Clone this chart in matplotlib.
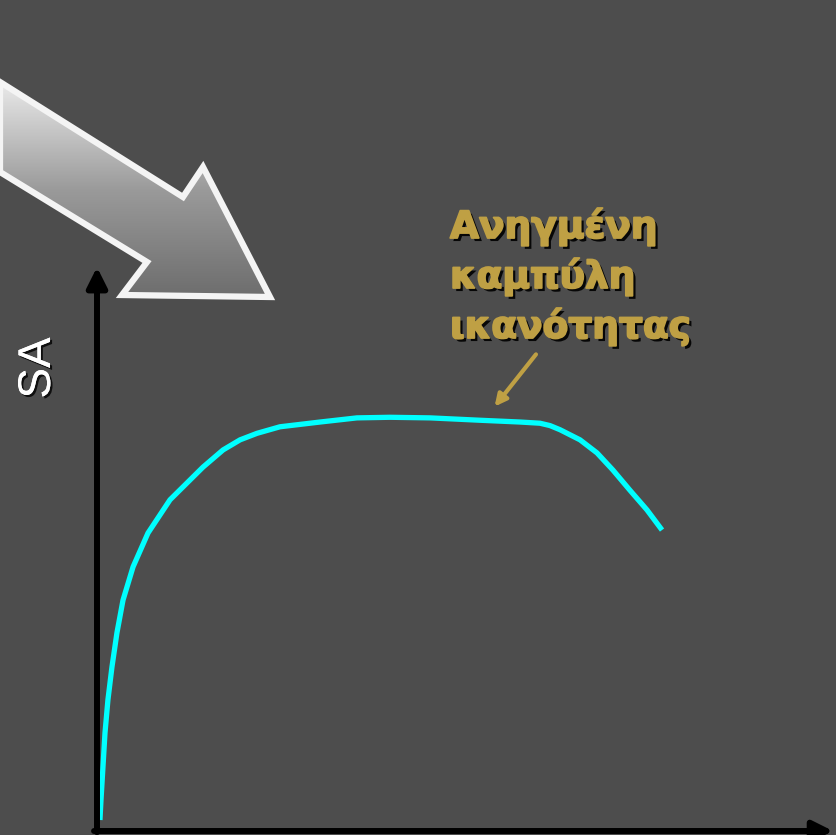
"""
Ανηγμένη καμπύλη ικανότητας - SA vs T sketch
"""

import numpy as np
import matplotlib
matplotlib.use('Agg')
import matplotlib.pyplot as plt
from matplotlib.patches import Polygon
import matplotlib.patheffects as pe

# ---- data ----
period = [0.020, 0.027, 0.054, 0.074, 0.101, 0.135, 0.176, 0.244, 0.345, 0.494,
          0.717, 0.853, 0.968, 1.083, 1.238, 1.509, 1.759, 1.982, 2.253, 2.591,
          2.862, 2.997, 3.065, 3.133, 3.268, 3.383, 3.491, 3.606, 3.721, 3.823]
sa = [0.0185, 0.052, 0.165, 0.221, 0.276, 0.334, 0.389, 0.445, 0.502, 0.558,
      0.613, 0.642, 0.659, 0.670, 0.681, 0.689, 0.696, 0.697, 0.696, 0.692,
      0.689, 0.687, 0.683, 0.676, 0.659, 0.637, 0.608, 0.574, 0.541, 0.507]
label_text = 'Ανηγμένη\nκαμπύλη\nικανότητας'
y_label = 'SA'
pointer_tip = (2.69, 0.715)
pointer_tail = (2.97, 0.803)

BG = '#4d4d4d'
GOLD = '#bfa044'

W, H = 836, 835
fig = plt.figure(figsize=(W / 100, H / 100), dpi=100, facecolor=BG)

# background axes in pixel units, for the decorative big arrow and text
bg = fig.add_axes([0, 0, 1, 1], zorder=0)
bg.set_xlim(0, W)
bg.set_ylim(H, 0)
bg.axis('off')
bg.set_facecolor(BG)

arrow_pts = [(0, 82), (183, 197), (203, 167), (270, 297), (122, 295), (147, 262), (0, 172)]
poly = Polygon(arrow_pts, closed=True, facecolor='none', edgecolor='#f4f4f4',
               lw=4.5, joinstyle='miter', zorder=3)
bg.add_patch(poly)
grad = np.linspace(0, 1, 256).reshape(-1, 1)
cmap = matplotlib.colors.LinearSegmentedColormap.from_list('g', ['#ebebeb', '#9a9a9a', '#6c6c6c'])
im = bg.imshow(grad, cmap=cmap, extent=(0, 280, 300, 80), aspect='auto', zorder=2)
im.set_clip_path(poly)
bg.set_xlim(0, W)
bg.set_ylim(H, 0)

shadow = [pe.withSimplePatchShadow(offset=(2.2, -2.2), shadow_rgbFace='black', alpha=0.9),
          pe.withStroke(linewidth=1.3, foreground=GOLD)]
bg.text(450, 208, label_text, color=GOLD, fontsize=27, fontweight='bold',
        family='DejaVu Sans', va='top', ha='left', linespacing=1.4, path_effects=shadow)
bg.text(38, 368, y_label, color='white', fontsize=33, family='Liberation Sans',
        rotation=90, ha='center', va='center',
        path_effects=[pe.withSimplePatchShadow(offset=(1.5, -1.5), shadow_rgbFace='black', alpha=0.8), pe.Normal()])

# data axes: origin at the corner of the drawn axes
ax = fig.add_axes([97 / W, (H - 831) / H, (W - 97) / W, 831 / H], zorder=1)
ax.patch.set_alpha(0)
ax.set_xlim(0, 5)
ax.set_ylim(0, 1.4)
ax.axis('off')

ax.plot(period, sa, color='#00ffff', lw=3.8, solid_capstyle='butt',
        solid_joinstyle='round', zorder=3)

ax.annotate('', xy=(0, 0.95), xytext=(0, -0.002),
            arrowprops=dict(arrowstyle='-|>,head_length=1.2,head_width=0.6',
                            lw=4.3, color='black', shrinkA=0, shrinkB=0))
ax.annotate('', xy=(4.98, 0), xytext=(-0.02, 0),
            arrowprops=dict(arrowstyle='-|>,head_length=1.2,head_width=0.6',
                            lw=4.3, color='black', shrinkA=0, shrinkB=0))

ax.annotate('', xy=pointer_tip, xytext=pointer_tail,
            arrowprops=dict(arrowstyle='-|>,head_length=0.7,head_width=0.35',
                            lw=3, color=GOLD, shrinkA=0, shrinkB=0))

fig.savefig('out.png', dpi=100, facecolor=BG)
